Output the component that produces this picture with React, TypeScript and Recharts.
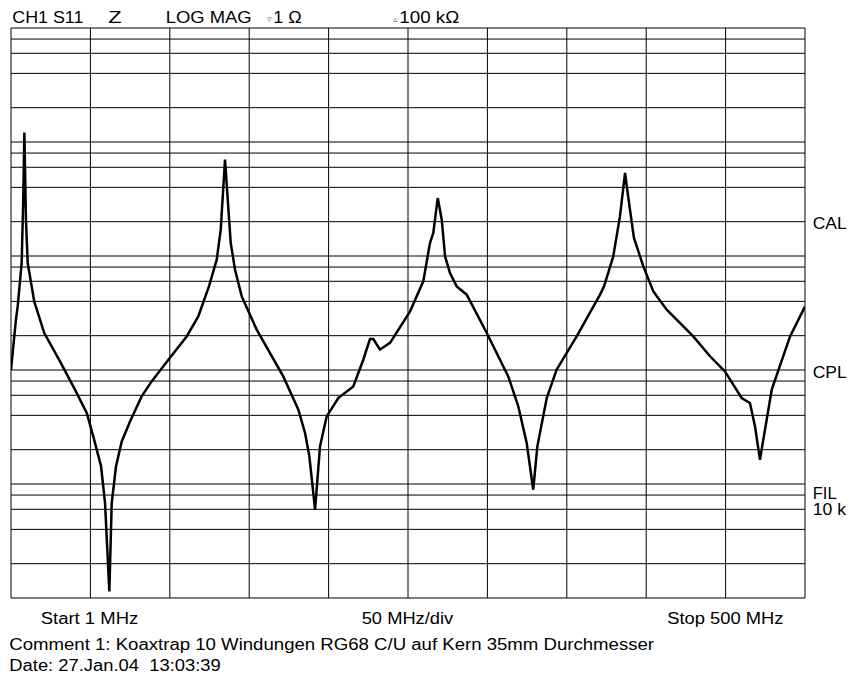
import { LineChart, Line, XAxis, YAxis, ReferenceLine } from 'recharts'

// sweep 1 ... 500 MHz, impedance in ohm
const freqMHz = [
  1, 4.1, 5.2, 7.7, 8.7, 9.4, 10.4, 11.5, 15.6, 21.9, 31.8, 41.2, 48.6, 52.7, 57.6, 60.1, 62.8,
  64.3, 67.0, 70.6, 75.8, 83.1, 89.4, 99.9, 111.4, 118.7, 125.4, 130.3, 132.8, 135.5, 139.1,
  141.8, 146.0, 155.4, 172.1, 181.6, 185.8, 188.5, 192.1, 195.2, 199.4, 206.7, 216.1, 222.4,
  226.6, 228.7, 232.9, 239.2, 251.8, 260.1, 264.3, 266.4, 269.2, 271.7, 273.8, 276.9, 281.1,
  287.4, 300.0, 313.5, 319.8, 325.1, 329.2, 331.8, 337.7, 343.9, 356.5, 371.2, 373.7, 379.5,
  383.7, 386.9, 390.0, 392.5, 398.4, 404.7, 413.1, 429.8, 440.3, 449.7, 460.2, 465.4, 468.6,
  471.7, 473.8, 479.1, 490.6, 500,
]
const impedanceOhm = [
  100, 276, 361, 868, 3119, 12140, 2081, 868, 400, 211, 119, 67.2, 42.0, 26.2, 14.3, 6.81, 1.14,
  6.81, 14.3, 23.6, 35.4, 58.7, 79.4, 123, 197, 295, 541, 928, 1701, 6995, 1300,
  758, 442, 226, 87.9, 44.8, 28.0, 17.5, 5.95, 21.4, 39.2, 56.8, 71.8, 123,
  187, 187, 151, 173, 327, 599, 1300, 1592, 3229, 2081, 992, 709, 541,
  458, 211, 87.9, 48.0, 22.9, 8.91, 21.4, 56.8, 100.6, 197, 458, 541, 992,
  2225, 5346, 2547, 1438, 811, 489, 338, 197, 132, 97.2, 56.8, 51.3, 32.0,
  16.3, 24.5, 67.2, 197, 361,
]

// 10 divisions of ~50 MHz
const freqGrid = [1, 50.9, 100.8, 150.7, 200.6, 250.5, 300.4, 350.3, 400.2, 450.1, 500]
// log grid, 1 / 2 / 4 / 6 / 8 per decade
const ohmGrid = [
  1, 2, 4, 6, 8, 10, 20, 40, 60, 80, 100, 200, 400, 600, 800,
  1000, 2000, 4000, 6000, 8000, 10000, 20000, 40000, 60000, 80000, 100000,
]

const labels = [
  { text: 'CH1 S11', x: 12.3, y: 22.7, len: 71 },
  { text: 'Z', x: 108.3, y: 22.7, len: 13.4 },
  { text: 'LOG MAG', x: 165.7, y: 22.7, len: 86 },
  { text: '1 Ω', x: 273.3, y: 22.7, len: 28.4 },
  { text: '100 kΩ', x: 399.3, y: 22.7, len: 60 },
  { text: 'CAL', x: 812.7, y: 229.3, len: 34 },
  { text: 'CPL', x: 812.7, y: 378.3, len: 34 },
  { text: 'FIL', x: 812.7, y: 499.3, len: 24 },
  { text: '10 k', x: 812.7, y: 515, len: 33.3 },
  { text: 'Start 1 MHz', x: 40.7, y: 624, len: 97.6 },
  { text: '50 MHz/div', x: 361.7, y: 624, len: 91.6 },
  { text: 'Stop 500 MHz', x: 667.3, y: 624, len: 116 },
  { text: 'Comment 1: Koaxtrap 10 Windungen RG68 C/U auf Kern 35mm Durchmesser', x: 9.3, y: 650.3, len: 644.7 },
  { text: 'Date: 27.Jan.04  13:03:39', x: 9.3, y: 670.7, len: 211.4 },
]

export default function App() {
  const data = freqMHz.map((f, i) => ({ f, z: impedanceOhm[i] }))

  return (
    <div style={{ position: 'absolute', left: 0, top: 0, width: 860, height: 677, background: '#fff' }}>
      <LineChart width={860} height={677} data={data} margin={{ top: 28, right: 55, bottom: 79, left: 11 }}>
        <XAxis dataKey="f" type="number" domain={[1, 500]} hide allowDataOverflow />
        <YAxis type="number" scale="log" domain={[1, 100000]} hide allowDataOverflow />
        {ohmGrid.map(v => (
          <ReferenceLine key={'h' + v} y={v} stroke="#000" strokeWidth={1} />
        ))}
        {freqGrid.map(v => (
          <ReferenceLine key={'v' + v} x={v} stroke="#000" strokeWidth={1} />
        ))}
        <Line
          dataKey="z"
          type="linear"
          stroke="#000"
          strokeWidth={2.5}
          dot={false}
          isAnimationActive={false}
        />
      </LineChart>
      <svg
        width={860}
        height={677}
        style={{ position: 'absolute', left: 0, top: 0, pointerEvents: 'none' }}
        fontFamily="'Liberation Sans', Arial, sans-serif"
        fontSize={16}
      >
        {labels.map(l => (
          <text
            key={l.text}
            x={l.x}
            y={l.y}
            textLength={l.len}
            lengthAdjust="spacingAndGlyphs"
            fill="#000"
            style={{ whiteSpace: 'pre' }}
          >
            {l.text}
          </text>
        ))}
        {/* tiny reference markers in front of the scale limits */}
        <text x={266.5} y={22} fontSize={9} fill="#666">▿</text>
        <text x={392.5} y={22} fontSize={9} fill="#666">▵</text>
      </svg>
    </div>
  )
}
